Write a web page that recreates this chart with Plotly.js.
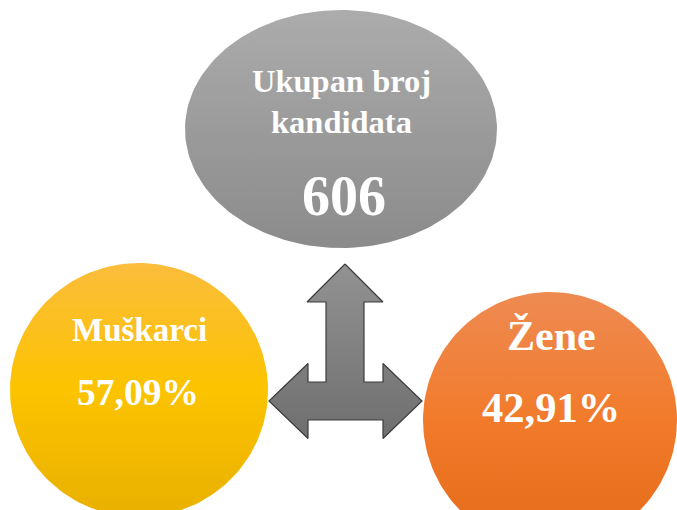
<!DOCTYPE html>
<html>
<head>
<meta charset="utf-8">
<script src="https://cdn.plot.ly/plotly-3.0.1.min.js"></script>
<style>html,body{margin:0;padding:0;background:#fff;}#chart{width:677px;height:510px;}</style>
</head>
<body>
<div id="chart"></div>
<script>
// Data
const totalLabel = ['Ukupan broj', 'kandidata'];
const totalValue = [606];
const groupLabels = ['Muškarci', 'Žene'];
const groupShares = [57.09, 42.91];

function fmtPct(v) { return v.toFixed(2).replace('.', ',') + '%'; }

// Layout geometry (pixels, y downward)
const bubbles = [
  {cx: 341, cy: 129, rx: 156, ry: 119, colors: ['#acacac', '#9b9b9b', '#8b8b8b']},
  {cx: 139, cy: 390, rx: 129, ry: 127, colors: ['#fbbd3c', '#fcc300', '#e9b000']},
  {cx: 550, cy: 420, rx: 127, ry: 128, colors: ['#ee8a52', '#f27b2b', '#e26a18']}
];

function ellipseTrace(b) {
  const xs = [], ys = [];
  const n = 180;
  for (let i = 0; i <= n; i++) {
    const t = 2 * Math.PI * i / n;
    xs.push(b.cx + b.rx * Math.cos(t));
    ys.push(b.cy + b.ry * Math.sin(t));
  }
  return {
    type: 'scatter', mode: 'lines', x: xs, y: ys, fill: 'toself',
    line: {width: 0, color: 'rgba(0,0,0,0)'},
    fillcolor: b.colors[1],
    fillgradient: {type: 'vertical', colorscale: [[0, b.colors[2]], [0.5, b.colors[1]], [1, b.colors[0]]]},
    hoverinfo: 'skip', showlegend: false
  };
}

// Arrow geometry
const A = {tipUpX: 345, tipUpY: 264, upHeadY: 302, upHeadHalf: 38, shaftHalf: 19,
           hY: 401, hHalf: 19, hHeadHalf: 37.5, leftTip: 269, rightTip: 422, headLen: 39};
function arrowPoints(a) {
  const cx = a.tipUpX;
  return [
    [cx, a.tipUpY],
    [cx + a.upHeadHalf, a.upHeadY],
    [cx + a.shaftHalf, a.upHeadY],
    [cx + a.shaftHalf, a.hY - a.hHalf],
    [a.rightTip - a.headLen, a.hY - a.hHalf],
    [a.rightTip - a.headLen, a.hY - a.hHeadHalf],
    [a.rightTip, a.hY],
    [a.rightTip - a.headLen, a.hY + a.hHeadHalf],
    [a.rightTip - a.headLen, a.hY + a.hHalf],
    [a.leftTip + a.headLen, a.hY + a.hHalf],
    [a.leftTip + a.headLen, a.hY + a.hHeadHalf],
    [a.leftTip, a.hY],
    [a.leftTip + a.headLen, a.hY - a.hHeadHalf],
    [a.leftTip + a.headLen, a.hY - a.hHalf],
    [cx - a.shaftHalf, a.hY - a.hHalf],
    [cx - a.shaftHalf, a.upHeadY],
    [cx - a.upHeadHalf, a.upHeadY],
    [cx, a.tipUpY]
  ];
}

const traces = bubbles.map(ellipseTrace);
const ap = arrowPoints(A);
traces.push({
  type: 'scatter', mode: 'lines', x: ap.map(p => p[0]), y: ap.map(p => p[1]), fill: 'toself',
  line: {width: 1.2, color: '#3c3c3c'},
  fillcolor: '#808080',
  fillgradient: {type: 'vertical', colorscale: [[0, '#6f6f6f'], [1, '#929292']]},
  hoverinfo: 'skip', showlegend: false
});

const font = (size) => ({family: 'Liberation Serif, Times New Roman, serif', size: size, color: '#ffffff'});
const annotations = [
  {x: 341, y: 81, text: '<b>' + totalLabel[0] + '</b>', font: font(32.5)},
  {x: 341, y: 122, text: '<b>' + totalLabel[1] + '</b>', font: font(32.5)},
  {x: 344, y: 196, text: '<b>' + totalValue[0] + '</b>', font: font(56)},
  {x: 139, y: 330, text: '<b>' + groupLabels[0] + '</b>', font: font(33)},
  {x: 138, y: 392, text: '<b>' + fmtPct(groupShares[0]) + '</b>', font: font(37.5)},
  {x: 551, y: 336, text: '<b>' + groupLabels[1] + '</b>', font: font(42)},
  {x: 551, y: 407, text: '<b>' + fmtPct(groupShares[1]) + '</b>', font: font(42.5)}
].map(a => Object.assign({xref: 'x', yref: 'y', showarrow: false, xanchor: 'center', yanchor: 'middle'}, a));

const layout = {
  width: 677, height: 510,
  margin: {l: 0, r: 0, t: 0, b: 0},
  paper_bgcolor: '#ffffff', plot_bgcolor: '#ffffff',
  xaxis: {range: [0, 677], visible: false, fixedrange: true},
  yaxis: {range: [510, 0], visible: false, fixedrange: true},
  annotations: annotations,
  showlegend: false
};

Plotly.newPlot('chart', traces, layout, {displayModeBar: false, staticPlot: true});
</script>
</body>
</html>
